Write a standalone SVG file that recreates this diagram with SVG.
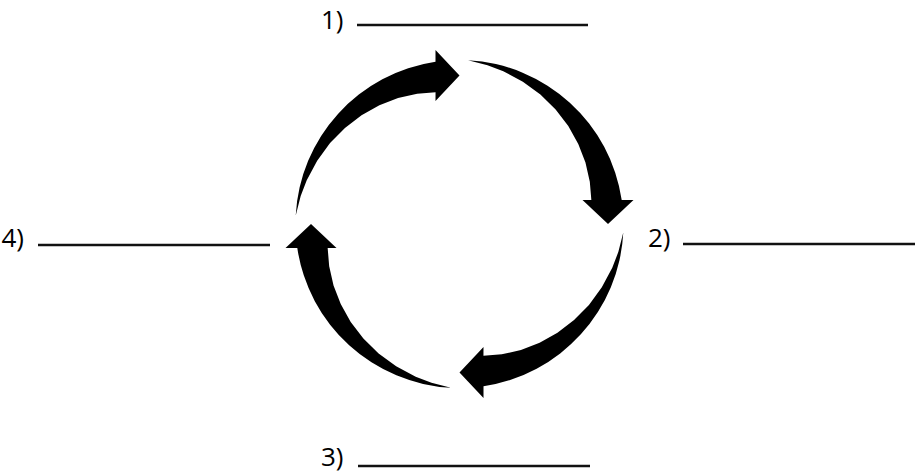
<svg xmlns="http://www.w3.org/2000/svg" xmlns:xlink="http://www.w3.org/1999/xlink" width="922" height="472" viewBox="0 0 922 472">
<style>
.lbl{font-family:"Open Sans","Noto Sans","Liberation Sans",sans-serif;font-size:26px;fill:#000}
.blank{stroke:#111;stroke-width:2.5;fill:none}
.arr{fill:#000}
</style>
<defs>
<path id="arrow" class="arr" d="M8.58,-163.78 A164,164 0 0 1 162.2,-24 L174,-24 L148.5,0 L123,-24 L131.84,-23.96 L130.31,-42.34 L125.96,-61.44 L118.77,-80.12 L108.79,-97.96 L96.12,-114.54 L80.9,-129.46 L63.36,-142.32 L43.8,-152.77 L28,-158.81 Z"/>
</defs>
<g id="connectors">
<use id="arrow-right" href="#arrow" xlink:href="#arrow" transform="translate(459.5 224)"/>
<use id="arrow-bottom" href="#arrow" xlink:href="#arrow" transform="translate(459.5 224) rotate(90)"/>
<use id="arrow-left" href="#arrow" xlink:href="#arrow" transform="translate(459.5 224) rotate(180)"/>
<use id="arrow-top" href="#arrow" xlink:href="#arrow" transform="translate(459.5 224) rotate(270)"/>
</g>
<g id="label1"><text class="lbl" x="321" y="28.5">1)</text><line class="blank" x1="357" y1="25" x2="588" y2="25"/></g>
<g id="label2"><text class="lbl" x="648" y="246.5">2)</text><line class="blank" x1="683" y1="244" x2="915" y2="244"/></g>
<g id="label3"><text class="lbl" x="321" y="465.5">3)</text><line class="blank" x1="358" y1="466" x2="590" y2="466"/></g>
<g id="label4"><text class="lbl" x="1.5" y="246.5">4)</text><line class="blank" x1="38" y1="245" x2="270" y2="245"/></g>
</svg>
